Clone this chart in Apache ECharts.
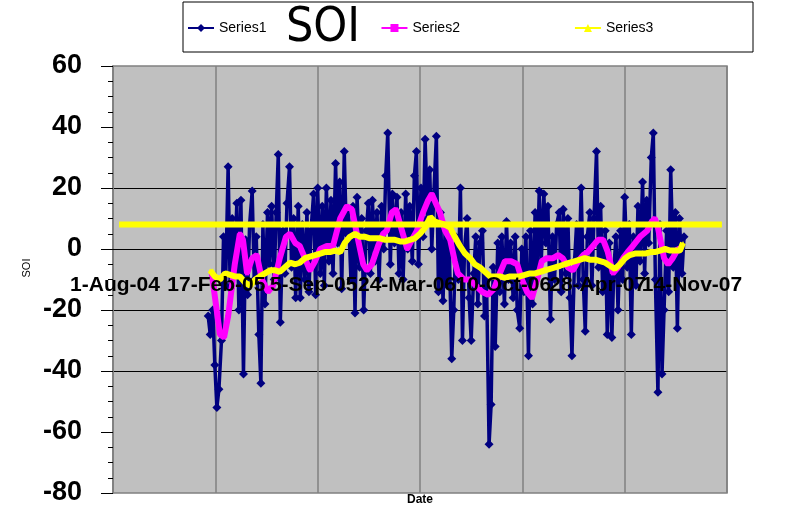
<!DOCTYPE html>
<html><head><meta charset="utf-8">
<script src="https://cdn.jsdelivr.net/npm/echarts@6/dist/echarts.min.js"></script>
<style>html,body{margin:0;padding:0;background:#fff}#c{width:800px;height:509px}</style>
</head><body><div id="c"></div>
<script>
// X values are Excel date serials (38200 = 1-Aug-04, 39400 = 14-Nov-07)
const xMin = 38200, xMax = 39400, xStep = 200;
const yMin = -80, yMax = 60, yStep = 20;
const seriesNames = ['Series1', 'Series2', 'Series3'];
// small horizontal nudges of the date labels as they sit in the original (px)
const xLabelShift = [2, 1, -4, -13, -19, -27, -35];

// Series1: daily SOI (sampled)
const s1Days = [
38386,38390,38395,38399,38403,38407,38412, 38416,38420,38425,38429,38433,38437,38442,
38446,38450,38455,38459,38463,38467,38472, 38476,38480,38485,38489,38493,38497,38502,
38506,38510,38515,38519,38523,38527,38532, 38536,38540,38545,38549,38553,38557,38562,
38566,38570,38575,38579,38583,38587,38592, 38596,38600,38605,38609,38613,38617,38622,
38626,38630,38635,38639,38643,38647,38652, 38656,38660,38665,38669,38673,38677,38682,
38686,38690,38695,38699,38703,38707,38712, 38716,38720,38725,38729,38733,38737,38742,
38746,38750,38755,38759,38763,38767,38772, 38776,38780,38785,38789,38793,38797,38802,
38806,38810,38815,38819,38823,38827,38832, 38836,38840,38845,38849,38853,38857,38862,
38866,38870,38875,38879,38883,38887,38892, 38896,38900,38905,38909,38913,38917,38922,
38926,38930,38935,38939,38943,38947,38952, 38956,38960,38965,38969,38973,38977,38982,
38986,38990,38995,38999,39003,39007,39012, 39016,39020,39025,39029,39033,39037,39042,
39046,39050,39055,39059,39063,39067,39072, 39076,39080,39085,39089,39093,39097,39102,
39106,39110,39115,39119,39123,39127,39132, 39136,39140,39145,39149,39153,39157,39162,
39166,39170,39175,39179,39183,39187,39192, 39196,39200,39205,39209,39213,39217,39222,
39226,39230,39235,39239,39243,39247,39252, 39256,39260,39265,39269,39273,39277,39282,
39286,39290,39295,39299,39303,39307,39312, 39316];
const s1Vals = [
-22,-28,-20,-38,-52,-46,-30,4,-12,27,
-13,10,-8,15,-20,16,-41,3,-15,8,
19,-10,4,-28,-44,8,-18,12,-5,14,
-10,12,31,-24,6,-8,15,27,-6,10,
-16,14,-16,8,-10,12,-14,6,18,-15,
20,-8,14,-12,20,-4,16,-8,28,2,
22,-13,32,5,12,-10,14,-21,17,-6,
10,-20,6,15,-8,16,-4,12,-10,14,
0,24,38,-5,18,2,17,-8,12,-10,
18,0,14,-4,24,32,-5,20,4,36,
10,26,0,18,37,-14,12,-17,6,-12,
2,-36,-20,4,-10,20,-30,0,10,-16,
-30,-8,4,-18,2,6,-22,-10,-64,-51,
-6,-32,2,-14,4,-18,9,-10,2,-16,
4,-20,-26,0,-14,4,-35,6,-18,12,
-8,19,-4,18,2,14,-23,4,-10,8,
12,-14,13,-8,10,-16,-35,-4,8,-12,
20,-10,-27,4,12,-12,10,32,-6,14,
-14,6,-28,2,-29,-6,4,-20,6,-10,
17,-6,8,-28,4,-12,14,-4,22,-8,
16,2,30,38,-10,-47,8,-41,-20,6,
-14,26,-6,12,-26,10,-8,4];

// Series2: short running mean
const s2Days = [38393,38409,38417,38425,38438,38448,38454,38462,38472,38481,
38491,38503,38513,38526,38538,38546,38556,38565,38575,38585,
38595,38605,38618,38630,38644,38657,38667,38679,38689,38696,
38706,38718,38728,38735,38745,38753,38763,38775,38784,38794,
38806,38816,38823,38831,38839,38849,38859,38868,38874,38886,
38898,38909,38921,38933,38945,38956,38966,38978,38990,38999,
39009,39019,39029,39038,39048,39060,39070,39079,39089,39099,
39109,39119,39128,39138,39148,39158,39167,39177,39187,39197,
39206,39216,39230,39244,39253,39259,39265,39271,39277,39285,
39294,39304,39310];
const s2Vals = [-8,-28,-29,-22,-5,5,3,-8,-3,-2,
-10,-14,-12,-3,4,5,2,1,-3,-7,
-4,0,1,1,10,14,13,3,-5,-7,
-5,1,5,6,12,13,7,0,3,6,
12,16,18,15,12,6,3,-4,-8,-10,
-10,-12,-14,-15,-13,-8,-4,-4,-5,-10,
-14,-16,-10,-4,-3,-3,-2,-3,-6,-7,
-4,-2,-1,1,3,3,-1,-8,-6,-3,
-1,1,4,6,9,10,7,2,-3,-5,
-3,0,0];

// Series3: long running mean
const s3Days = [38390,38399,38409,38419,38429,38438,38448,38458,38468,38478,
38487,38497,38507,38517,38526,38536,38546,38556,38565,38575,
38585,38595,38605,38614,38624,38634,38644,38653,38663,38673,
38683,38693,38702,38712,38722,38732,38741,38751,38761,38771,
38780,38790,38800,38810,38820,38829,38839,38849,38859,38868,
38878,38888,38898,38907,38917,38927,38937,38947,38956,38966,
38976,38986,38995,39005,39015,39025,39035,39044,39054,39064,
39074,39083,39093,39103,39113,39122,39132,39142,39152,39162,
39171,39181,39191,39201,39210,39220,39230,39240,39250,39259,
39269,39279,39289,39298,39308,39314];
const s3Vals = [-7,-9,-10,-8,-8.5,-9,-9,-11,-12,-10,
-9,-8,-7,-7,-7.5,-6,-4.5,-5,-4.5,-3,
-2.5,-2,-1.5,-1,-1,-0.5,-1,2,4,5,
4,4,3.5,3.5,3.5,3,3,3,2.5,2.5,
3,3.5,5,7,10.5,9,8.5,8,7,4,
1,-1.5,-3,-5,-6,-7.5,-9,-9,-9,-9.5,
-9,-9,-9,-8.5,-8,-8,-7.5,-7,-6.5,-6,
-5.5,-5,-4.5,-4,-3.5,-3,-3.5,-3.5,-4,-4.5,
-5.5,-6.5,-5,-3,-2,-1.5,-1.5,-1.5,-1,-1,
-0.5,0,-0.5,-0.5,-0.5,2];

// Flat reference line (same yellow)
const refDays = [38212, 39390];
const refVals = [8, 8];

const MON = ['Jan','Feb','Mar','Apr','May','Jun','Jul','Aug','Sep','Oct','Nov','Dec'];
function fmtSerial(v){
  const d = new Date(Math.round((v - 25569) * 86400000));
  return d.getUTCDate() + '-' + MON[d.getUTCMonth()] + '-' + String(d.getUTCFullYear()).slice(2);
}
function zip(a, b){ return a.map((x, i) => [x, b[i]]); }

const FONT = "'Liberation Sans', Arial, sans-serif";
const labelRich = {};
xLabelShift.forEach((s, i) => {
  labelRich['s' + i] = {fontSize: 21, fontWeight: 'bold', color: '#000', fontFamily: FONT,
    padding: s < 0 ? [0, -2 * s, 0, 0] : [0, 0, 0, 2 * s]};
});
// two label-only axes (even / odd ticks) so that touching labels are all kept
function labelAxis(parity){
  return {type: 'value', min: xMin, max: xMax, interval: xStep, position: 'bottom', offset: -244, z: 20,
    axisLine: {show: false, onZero: false}, axisTick: {show: false}, splitLine: {show: false},
    axisLabel: {show: true, showMaxLabel: true, showMinLabel: true, hideOverlap: false, margin: 26,
      fontSize: 21, fontWeight: 'bold', color: '#000', fontFamily: FONT, rich: labelRich,
      formatter: (v, i) => (i % 2 === parity) ? '{s' + i + '|' + fmtSerial(v) + '}' : ''}};
}

const chart = echarts.init(document.getElementById('c'));
const clear = 'rgba(0,0,0,0)';
chart.setOption({
  animation: false,
  backgroundColor: '#ffffff',
  grid: {left: 113, right: 73, top: 66, bottom: 16, show: true, outerBoundsMode: 'none',
         containLabel: false,
         backgroundColor: '#C0C0C0', borderColor: '#808080', borderWidth: 1.5},
  legend: {data: seriesNames, left: 187, top: 21, padding: 0,
           itemWidth: 26, itemHeight: 10, itemGap: 114,
           textStyle: {fontSize: 14, color: '#000', fontFamily: FONT},
           lineStyle: {width: 2}},
  xAxis: [
    {type: 'value', min: xMin, max: xMax, interval: xStep,
     axisLine: {show: true, onZero: true, lineStyle: {color: '#000', width: 1}},
     axisTick: {show: false}, axisLabel: {show: false},
     splitLine: {show: true, lineStyle: {color: '#808080', width: 1.5}}},
    labelAxis(0),
    labelAxis(1)
  ],
  yAxis: {type: 'value', min: yMin, max: yMax, interval: yStep,
    axisLine: {show: true, onZero: false, lineStyle: {color: '#808080', width: 1.5}},
    axisTick: {show: true, length: 12, lineStyle: {color: '#000'}},
    minorTick: {show: true, splitNumber: 4, length: 5, lineStyle: {color: '#000'}},
    axisLabel: {margin: 31, fontSize: 27, fontWeight: 'bold', color: '#000', fontFamily: FONT},
    splitLine: {show: true, lineStyle: {width: 1,
      color: [clear, clear, '#000', '#000', '#000', '#000', clear, clear]}}
  },
  graphic: [
    {type: 'rect', z: 0, shape: {x: 183, y: 2, width: 570, height: 50},
     style: {fill: '#fff', stroke: '#000', lineWidth: 1}},
    {type: 'text', z: 10, x: 323, y: 29,
     style: {text: 'SOI', font: "48px 'Liberation Sans Narrow', 'DejaVu Sans Condensed', sans-serif",
             fill: '#000', textAlign: 'center', textVerticalAlign: 'middle'}},
    {type: 'text', z: 10, x: 420, y: 500,
     style: {text: 'Date', font: "bold 12px " + FONT, fill: '#000',
             textAlign: 'center', textVerticalAlign: 'middle'}},
    {type: 'text', z: 10, x: 27, y: 268, rotation: Math.PI / 2,
     style: {text: 'SOI', font: "11px " + FONT, fill: '#000',
             textAlign: 'center', textVerticalAlign: 'middle'}}
  ],
  series: [
    {name: 'Series1', type: 'line', xAxisIndex: 0, data: zip(s1Days, s1Vals),
     symbol: 'diamond', symbolSize: 9, showAllSymbol: true, z: 2,
     lineStyle: {color: '#000080', width: 3.5}, itemStyle: {color: '#000080'}},
    {name: 'Series2', type: 'line', xAxisIndex: 0, data: zip(s2Days, s2Vals),
     symbol: 'rect', symbolSize: 4, showAllSymbol: true, z: 3,
     lineStyle: {color: '#FF00FF', width: 6}, itemStyle: {color: '#FF00FF'}},
    {name: 'Series3', type: 'line', xAxisIndex: 0, data: zip(s3Days, s3Vals),
     symbol: 'triangle', symbolSize: 4, showAllSymbol: true, z: 4,
     lineStyle: {color: '#FFFF00', width: 6}, itemStyle: {color: '#FFFF00'}},
    {name: 'ref', type: 'line', xAxisIndex: 0, data: zip(refDays, refVals),
     symbol: 'none', z: 5, lineStyle: {color: '#FFFF00', width: 6}}
  ]
});
</script></body></html>
